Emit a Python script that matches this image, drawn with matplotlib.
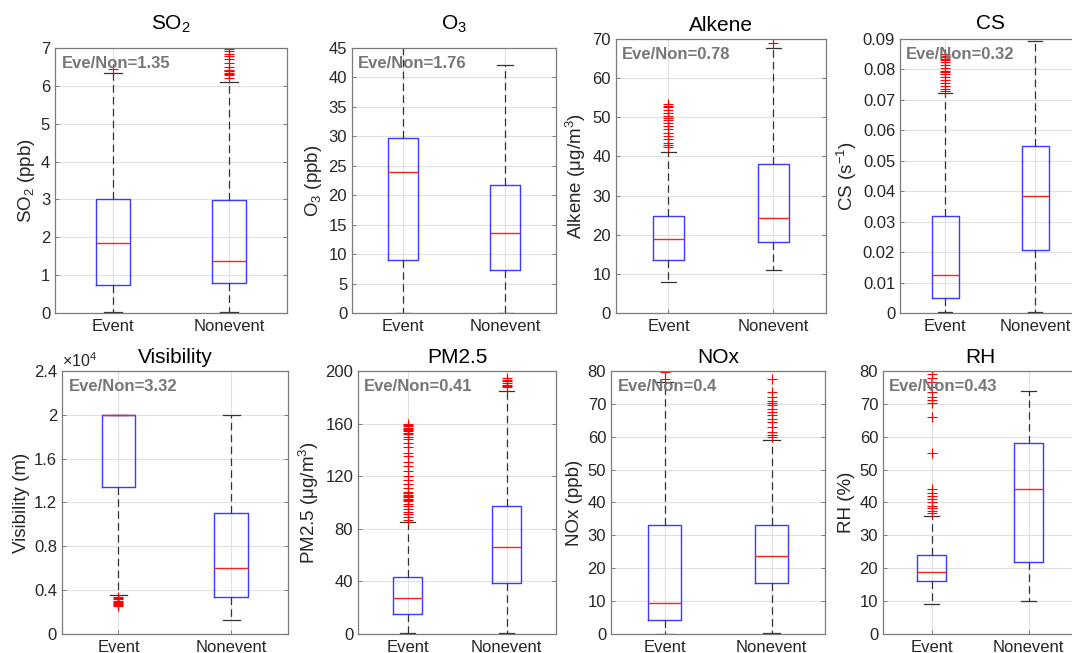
import matplotlib
matplotlib.use("Agg")
import matplotlib.pyplot as plt

plt.rcParams['font.family'] = ['Liberation Sans', 'DejaVu Sans']
plt.rcParams['mathtext.fontset'] = 'custom'
plt.rcParams['mathtext.rm'] = 'Liberation Sans'
plt.rcParams['mathtext.it'] = 'Liberation Sans'

# panel texts
titles = ['SO$_2$', 'O$_3$', 'Alkene', 'CS', 'Visibility', 'PM2.5', 'NOx', 'RH']
ylabels = ['SO$_2$ (ppb)', 'O$_3$ (ppb)', 'Alkene (μg/m$^3$)', 'CS (s$^{-1}$)',
           'Visibility (m)', 'PM2.5 (μg/m$^3$)', 'NOx (ppb)', 'RH (%)']
ratios = ['1.35', '1.76', '0.78', '0.32', '3.32', '0.41', '0.4', '0.43']
groups = ['Event', 'Nonevent']

# box statistics, Event
ev_lo = [0.02, 0.0, 7.8, 0.0003, 3600, 0.5, 0.0, 9.0]
ev_q1 = [0.75, 9.0, 13.6, 0.0048, 13400, 15.5, 4.3, 16.0]
ev_med = [1.84, 24.0, 18.8, 0.0125, 20000, 27.5, 9.5, 19.0]
ev_q3 = [3.0, 29.8, 24.8, 0.032, 20000, 43.5, 33.0, 24.0]
ev_hi = [6.35, 46.5, 41.2, 0.0722, 20000, 85.5, 76.5, 36.0]

# box statistics, Nonevent
ne_lo = [0.02, 0.0, 11.0, 0.0003, 1300, 0.5, 0.3, 10.0]
ne_q1 = [0.78, 7.3, 18.2, 0.0208, 3380, 38.5, 15.5, 22.0]
ne_med = [1.37, 13.5, 24.2, 0.0385, 6000, 66.5, 23.6, 44.0]
ne_q3 = [2.98, 21.7, 38.0, 0.055, 11000, 97.5, 33.0, 58.0]
ne_hi = [6.1, 42.1, 67.7, 0.0895, 20000, 185.0, 59.0, 74.0]

# outliers
ev_out = [
    [6.45],
    [],
    [42.3, 42.8, 43.5, 44.5, 45.2, 46.0, 47.0, 47.8, 48.5, 49.2, 49.8, 50.3,
     51.0, 51.8, 52.5, 53.0, 53.5],
    [0.0728, 0.0735, 0.0745, 0.0755, 0.0765, 0.0775, 0.0785, 0.079, 0.0795,
     0.0805, 0.0815, 0.0825, 0.083, 0.0835, 0.084, 0.0845, 0.085],
    [2550, 2650, 2750, 2850, 2950, 3050, 3150, 3250, 3350],
    [87, 89, 91, 93, 95, 97, 99, 101, 102, 103, 104, 105, 106, 107, 108,
     111, 114, 117, 120, 124, 128, 131, 135, 138, 142, 145, 148,
     150, 152, 153, 154, 155, 156, 157, 158, 159, 160],
    [77.5, 79.8],
    [36.8, 37.5, 38.3, 39.0, 40.0, 41.0, 42.0, 43.0, 44.0, 55.0, 66.0,
     70.2, 71.2, 72.2, 73.5, 75.0, 76.5, 78.0, 79.0, 80.0],
]
ne_out = [
    [6.22, 6.28, 6.32, 6.35, 6.38, 6.4, 6.42, 6.5, 6.6, 6.7, 6.78, 6.85, 6.92, 6.97],
    [],
    [68.9, 70.3],
    [],
    [],
    [187.5, 188.5, 189.5, 190.5, 192, 193.5, 195],
    [59.8, 60.5, 61.5, 63.0, 64.5, 65.5, 66.5, 67.5, 68.3, 69.5, 70.3, 71.0,
     72.0, 73.5, 77.5],
    [],
]

# axis ranges / ticks
ymax = [7, 45, 70, 0.09, 24000, 200, 80, 80]
ystep = [1, 5, 10, 0.01, 4000, 40, 10, 10]
title_pad = [13, 13, 6, 7, 6, 6, 6, 6]

# axes positions in figure fraction (left, bottom, width, height)
pos = [
    (0.0513, 0.5207, 0.2164, 0.4058),
    (0.3284, 0.5207, 0.1903, 0.4058),
    (0.5746, 0.5207, 0.1959, 0.4196),
    (0.8396, 0.5207, 0.1679, 0.4196),
    (0.0578, 0.0291, 0.2108, 0.4028),
    (0.3340, 0.0291, 0.1847, 0.4028),
    (0.5700, 0.0291, 0.1996, 0.4028),
    (0.8237, 0.0291, 0.1810, 0.4028),
]

fig = plt.figure(figsize=(10.72, 6.53), dpi=100)

for i in range(8):
    ax = fig.add_axes(pos[i])
    stats = [
        dict(whislo=ev_lo[i], q1=ev_q1[i], med=ev_med[i], q3=ev_q3[i],
             whishi=ev_hi[i], fliers=ev_out[i]),
        dict(whislo=ne_lo[i], q1=ne_q1[i], med=ne_med[i], q3=ne_q3[i],
             whishi=ne_hi[i], fliers=ne_out[i]),
    ]
    ax.bxp(stats, positions=[1, 2], widths=0.3, capwidths=0.15,
           boxprops=dict(color='#3b3bff', lw=1.0),
           medianprops=dict(color='#ff2020', lw=1.0),
           whiskerprops=dict(color='#333333', lw=0.9, linestyle=(0, (6, 3.5))),
           capprops=dict(color='#333333', lw=0.9),
           flierprops=dict(marker='+', markeredgecolor='red', markersize=6.5,
                           markeredgewidth=0.8, linestyle='none'))
    ax.set_xlim(0.5, 2.5)
    ax.set_ylim(0, ymax[i])
    n = int(round(ymax[i] / ystep[i]))
    ticks = [k * ystep[i] for k in range(n + 1)]
    ax.set_yticks(ticks)
    if i == 4:
        ax.set_yticklabels(['0', '0.4', '0.8', '1.2', '1.6', '2', '2.4'])
        ax.text(0.0, 1.005, r'$\times10^{4}$', transform=ax.transAxes,
                ha='left', va='bottom', fontsize=11.5, color='#262626')
    elif i == 3:
        ax.set_yticklabels(['0'] + ['%.2f' % t for t in ticks[1:]])
    ax.set_xticks([1, 2])
    ax.set_xticklabels(groups)
    ax.grid(True, color='#e0e0e0', lw=0.8)
    ax.set_axisbelow(True)
    for s in ax.spines.values():
        s.set_color('#7a7a7a')
        s.set_linewidth(0.9)
    ax.tick_params(direction='in', length=3, width=0.7, color='#7a7a7a',
                   labelcolor='#262626', labelsize=12, right=True, top=False)
    ax.tick_params(axis='x', labelsize=12, pad=4)
    ax.set_title(titles[i], fontsize=15, color='black', pad=title_pad[i])
    ax.set_ylabel(ylabels[i], fontsize=13.5, color='#262626', labelpad=3)
    ax.text(0.03, 0.97, 'Eve/Non=' + ratios[i], transform=ax.transAxes,
            ha='left', va='top', fontsize=12, fontweight='bold', color='#777777')

fig.savefig('out.png', dpi=100)
